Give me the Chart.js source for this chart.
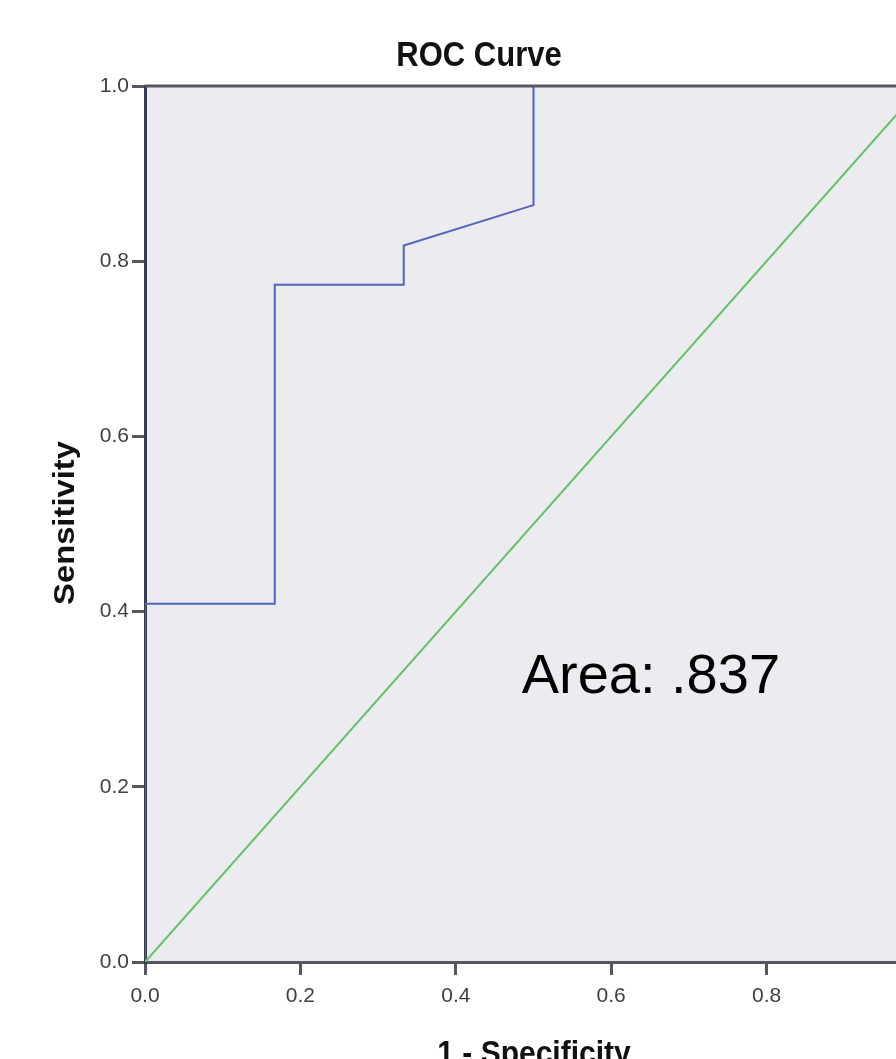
<!DOCTYPE html>
<html><head><meta charset="utf-8">
<script src="https://cdn.jsdelivr.net/npm/chart.js@4/dist/chart.umd.min.js"></script>
<style>html,body{margin:0;padding:0;overflow:hidden;background:#fff;width:896px;height:1059px}canvas{display:block}</style>
</head><body>
<canvas id="c" width="960" height="1059"></canvas>
<script>
const rocX = [0, 0, 0.167, 0.167, 0.333, 0.333, 0.5, 0.5, 1.0];
const rocY = [0, 0.409, 0.409, 0.773, 0.773, 0.818, 0.864, 1.0, 1.0];
const refX = [0, 1];
const refY = [0, 1];
const tickValues = [0, 0.2, 0.4, 0.6, 0.8, 1.0];
const chartTitle = 'ROC Curve';
const xTitle = '1 - Specificity';
const yTitle = 'Sensitivity';
const areaLabel = 'Area: .837';
const areaPos = [0.651, 0.325];

const FONT = '"Liberation Sans", Arial, sans-serif';
const SY = 1.13;

function stretchedText(ctx, text, x, y, font, rot) {
  ctx.save();
  ctx.translate(x, y);
  ctx.scale(1, SY);
  if (rot) ctx.rotate(rot);
  ctx.font = font;
  ctx.fillText(text, 0, 0);
  ctx.restore();
}

const textPlugin = {
  id: 'texts',
  beforeDraw(chart) {
    const {ctx, chartArea: a} = chart;
    ctx.save();
    ctx.fillStyle = '#ebebf0';
    ctx.fillRect(a.left, a.top, a.right - a.left, a.bottom - a.top);
    ctx.restore();
  },
  afterDraw(chart) {
    const {ctx, chartArea: a, scales} = chart;
    ctx.save();
    ctx.strokeStyle = '#55565f';
    ctx.lineWidth = 3;
    ctx.beginPath();
    ctx.moveTo(a.left, a.top); ctx.lineTo(a.right + 2, a.top);
    ctx.moveTo(a.right, a.top); ctx.lineTo(a.right, a.bottom);
    ctx.stroke();
    ctx.fillStyle = '#111';
    ctx.textAlign = 'center';
    ctx.textBaseline = 'middle';
    stretchedText(ctx, chartTitle, 479, 56, 'bold 31px ' + FONT);
    stretchedText(ctx, xTitle, 534, 1055, 'bold 30px ' + FONT);
    stretchedText(ctx, yTitle, 66, 523, 'bold 29px ' + FONT, -Math.PI / 2);
    ctx.font = '56px ' + FONT;
    ctx.fillStyle = '#000';
    ctx.fillText(areaLabel, scales.x.getPixelForValue(areaPos[0]), scales.y.getPixelForValue(areaPos[1]));
    ctx.restore();
  }
};

const tickCb = v => Number(v).toFixed(1);

new Chart(document.getElementById('c'), {
  type: 'scatter',
  data: {
    datasets: [
      {
        data: refX.map((x, i) => ({x, y: refY[i]})),
        showLine: true, borderColor: '#63c163', borderWidth: 2, pointRadius: 0, fill: false
      },
      {
        data: rocX.map((x, i) => ({x, y: rocY[i]})),
        showLine: true, borderColor: '#5065bb', borderWidth: 2, pointRadius: 0, fill: false
      }
    ]
  },
  options: {
    responsive: false,
    animation: false,
    layout: {padding: {top: 86, right: 38, left: 0, bottom: 0}},
    plugins: {legend: {display: false}, tooltip: {enabled: false}, title: {display: false}},
    scales: {
      x: {
        type: 'linear', min: 0, max: 1,
        afterBuildTicks: s => { s.ticks = tickValues.map(v => ({value: v})); },
        afterFit: s => { s.height = 97; },
        ticks: {callback: tickCb, font: {size: 21, family: FONT}, color: '#404040', padding: 9, maxRotation: 0},
        grid: {drawOnChartArea: false, drawTicks: true, tickLength: 13, color: '#55565f', lineWidth: 3},
        border: {display: true, color: '#55565f', width: 3}
      },
      y: {
        type: 'linear', min: 0, max: 1,
        afterBuildTicks: s => { s.ticks = tickValues.map(v => ({value: v})); },
        afterFit: s => { s.width = 145; },
        ticks: {callback: tickCb, font: {size: 21, family: FONT}, color: '#404040', padding: 3},
        grid: {drawOnChartArea: false, drawTicks: true, tickLength: 13, color: '#55565f', lineWidth: 3},
        border: {display: true, color: '#363a4d', width: 3}
      }
    }
  },
  plugins: [textPlugin]
});
</script>
</body></html>
